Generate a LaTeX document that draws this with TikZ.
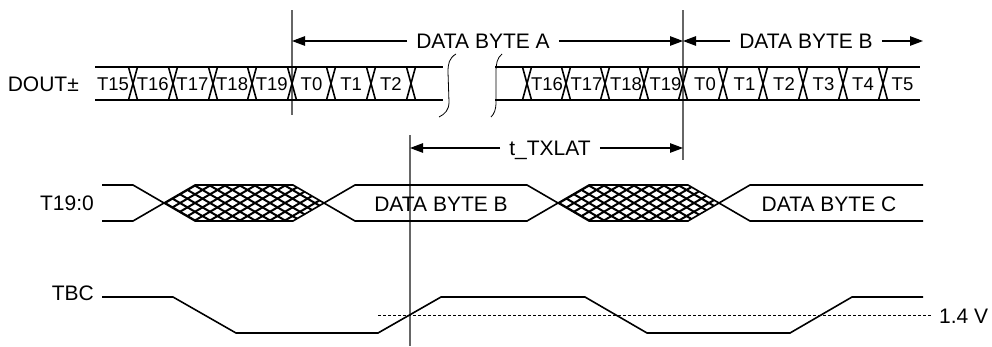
\documentclass[tikz,border=0pt]{standalone}
\usepackage{fontspec}
\setmainfont{Liberation Sans}
\usetikzlibrary{arrows.meta}

\tikzset{
  sig/.style={line width=1.6pt},
  markline/.style={black!60,line width=1.2pt},
  dim/.style={line width=1.1pt,->},
  lbl/.style={font=\fontsize{21}{24}\selectfont,inner sep=0pt},
  gaplbl/.style={lbl,inner xsep=9pt},
  bit/.style={font=\fontsize{18.5}{20}\selectfont,inner sep=0pt},
}

\begin{document}
\begin{tikzpicture}[x=1pt,y=-1pt,>={Triangle[length=13pt,width=9.5pt]}]
    \useasboundingbox (0,0) rectangle (992,346);
    % markers
    \draw[markline] (292,10) -- (292,115);
    \draw[markline] (683,10) -- (683,160);
    \draw[markline] (410,135) -- (410,346);
    \coordinate (ma) at (292,41);
    \coordinate (mb) at (683,41);
    \coordinate (mbend) at (923,41);
    \coordinate (mc) at (410,148);
    \coordinate (md) at (683,148);
    % DOUT bus
    \node[lbl,anchor=east] (dout) at (79,84) {DOUT±};
    \draw[sig] (95,67) -- (443,67) (95,100) -- (443,100);
    \draw[sig] (495,67) -- (920,67) (495,100) -- (920,100);
    \foreach \x in {133,173,213,252,292,331,371,411,527,566,605,644,683,723,763,803,843,883}
        \draw[sig] (\x-4.5,67) -- (\x+4.5,100) (\x-4.5,100) -- (\x+4.5,67);
    \foreach \t [count=\i] in {T15,T16,T17,T18,T19,T0,T1,T2}
        \node[bit] (bl\i) at (113+39.7*\i-39.7,84) {\t};
    \foreach \t [count=\i] in {T16,T17,T18,T19,T0,T1,T2,T3,T4,T5}
        \node[bit] (br\i) at (547+39.5*\i-39.5,84) {\t};
    \draw[line width=0.8pt] (456,54) .. controls (449,58) and (448,64) .. (448,72) -- (449,102) .. controls (449,110) and (445,114) .. (439,117);
    \draw[line width=0.8pt] (502,54) .. controls (497,58) and (496,64) .. (496,72) -- (496,102) .. controls (496,110) and (494,114) .. (491,117);
    % byte arrows
    \node[gaplbl] (bytea) at (483,41) {DATA BYTE A};
    \node[gaplbl] (byteb) at (806,41) {DATA BYTE B};
    \node[gaplbl,text depth=0pt] (txlat) at (550,148) {t\_TXLAT};
    \draw[dim] (bytea) -- (ma);
    \draw[dim] (bytea) -- (mb);
    \draw[dim] (byteb) -- (mb);
    \draw[dim] (byteb) -- (mbend);
    \draw[dim] (txlat) -- (mc);
    \draw[dim] (txlat) -- (md);
    % T19:0 bus
    \node[lbl,anchor=east] (tbus) at (94,203) {T19:0};
    \foreach \c in {164,558}{
        \begin{scope}
            \clip (\c,203) -- (\c+31,185) -- (\c+129,185) -- (\c+160,203) -- (\c+129,221) -- (\c+31,221) -- cycle;
            \foreach \k in {-5,...,12}{
                \draw[line width=2pt] (\c+15*\k-30,185) -- ++(62,36);
                \draw[line width=2pt] (\c+15*\k-30,221) -- ++(62,-36);
            }
        \end{scope}
    }
    \draw[sig] (102,185) -- (133,185) -- (195,221) -- (293,221) -- (355,185) -- (527,185) -- (589,221) -- (688,221) -- (750,185) -- (923,185);
    \draw[sig] (102,221) -- (133,221) -- (195,185) -- (293,185) -- (355,221) -- (527,221) -- (589,185) -- (688,185) -- (750,221) -- (923,221);
    \node[lbl] (datab) at (441,204) {DATA BYTE B};
    \node[lbl] (datac) at (829,204) {DATA BYTE C};
    % TBC
    \node[lbl,anchor=east] (tbc) at (94,293) {TBC};
    \draw[line width=0.8pt,dash pattern=on 3pt off 2pt] (378,315) -- (932,315);
    \node[lbl,anchor=west] (volt) at (939,316) {1.4 V};
    \draw[sig] (102,297) -- (173,297) -- (236,333) -- (378,333) -- (441,297) -- (585,297) -- (647,333) -- (790,333) -- (852,297) -- (923,297);
\end{tikzpicture}
\end{document}
